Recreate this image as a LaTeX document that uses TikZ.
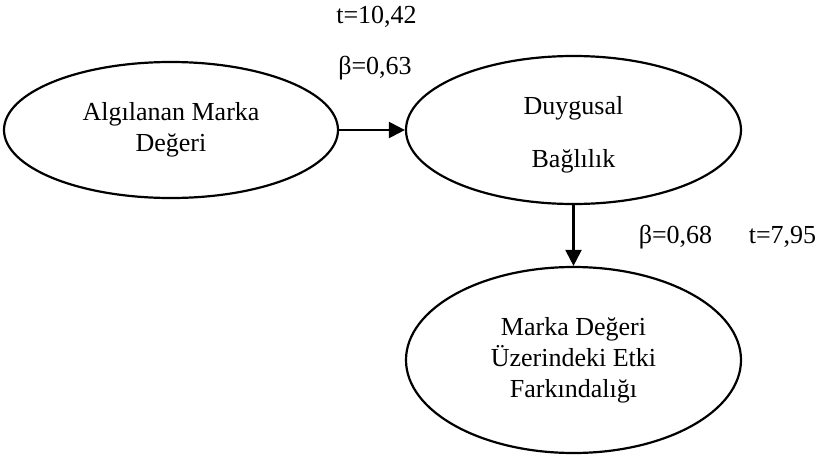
\documentclass[tikz,border=0pt]{standalone}
\usepackage{fontspec}
\setmainfont{Liberation Serif}
\usetikzlibrary{shapes.geometric,arrows.meta}
\begin{document}
\begin{tikzpicture}[x=1pt,y=-1pt,
  oval/.style={ellipse,draw=black,line width=2.2pt,inner sep=0pt,align=center,
    font=\fontsize{26}{31}\selectfont},
  lbl/.style={inner sep=0pt,anchor=base,font=\fontsize{26}{31}\selectfont},
  link/.style={line width=2.2pt,-{Triangle[length=16pt,width=16pt]}}]
\useasboundingbox (0,0) rectangle (823,456);
\node[oval,minimum width=334pt,minimum height=136pt] (e1) at (171,130) {Algılanan Marka\\Değeri};
\node[oval,minimum width=335pt,minimum height=148pt] (e2) at (573.5,130) {\rule{0pt}{0pt}\\[-4pt]Duygusal\\[22pt]Bağlılık};
\node[oval,minimum width=335pt,minimum height=186pt] (e3) at (573.5,360) {Marka Değeri\\Üzerindeki Etki\\Farkındalığı};
\draw[link] (e1.east) -- (e2.west);
\draw[link] (e2.south) -- (e3.north);
\node[lbl] (t1) at (376.5,23) {t=10,42};
\node[lbl] (b1) at (375,74) {β=0,63};
\node[lbl] (b2) at (675.5,243) {β=0,68};
\node[lbl] (t2) at (782.5,243) {t=7,95};
\end{tikzpicture}
\end{document}
